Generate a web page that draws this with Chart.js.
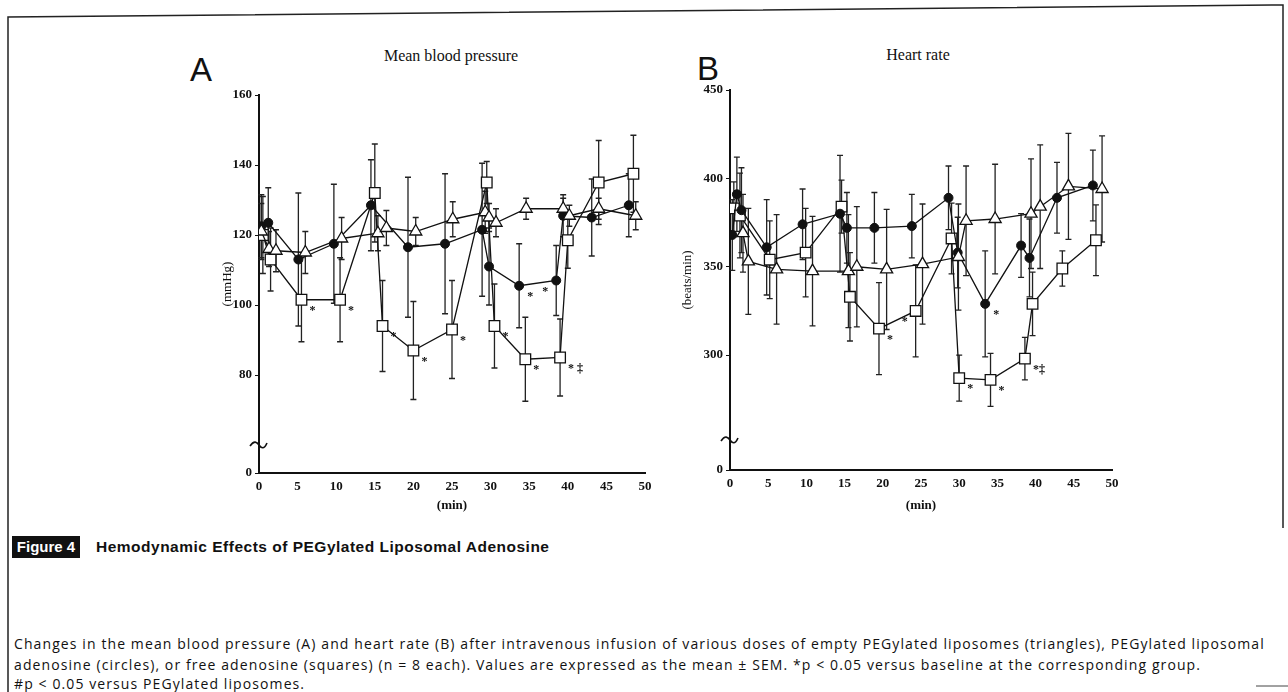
<!DOCTYPE html>
<html>
<head>
<meta charset="utf-8">
<script src="https://cdn.jsdelivr.net/npm/chart.js@4.4.1/dist/chart.umd.min.js"></script>
<style>
  body { margin: 0; width: 1288px; height: 692px; background: #fff; position: relative; overflow: hidden; }
  .abs { position: absolute; white-space: nowrap; color: #111; }
  .panel { font-family: 'Liberation Sans', Arial, sans-serif; font-size: 33px; line-height: 33px; }
  .ptitle { font-family: 'Liberation Serif', serif; font-size: 16px; transform: translateX(-50%); }
  .cap { font-family: 'Open Sans', sans-serif; font-size: 14px; letter-spacing: 1.1px; line-height: 18px; }
  #figbox { left: 12px; top: 536px; width: 68px; height: 22px; background: #111; color: #fff;
            font: bold 15px 'Liberation Sans', sans-serif; line-height: 22px; text-align: center; }
  #figtitle { left: 96px; top: 538px; font: bold 15.5px 'Liberation Sans', sans-serif; letter-spacing: 0.5px; }
  canvas { position: absolute; }
</style>
</head>
<body>
<svg class="abs" style="left:0;top:0" width="1288" height="692">
  <polyline points="8,692 8,17 1283,5 1283,528" fill="none" stroke="#222" stroke-width="1.5"/>
  <line x1="1256" y1="686" x2="1288" y2="686" stroke="#444" stroke-width="1"/>
</svg>

<div class="abs panel" style="left:190px;top:53px">A</div>
<div class="abs ptitle" style="left:451px;top:47px">Mean blood pressure</div>
<div class="abs panel" style="left:697px;top:52px">B</div>
<div class="abs ptitle" style="left:918px;top:46px">Heart rate</div>

<canvas id="chartA" width="480" height="480" style="left:180px;top:40px"></canvas>
<canvas id="chartB" width="480" height="480" style="left:650px;top:40px"></canvas>

<div class="abs" id="figbox">Figure 4</div>
<div class="abs" id="figtitle">Hemodynamic Effects of PEGylated Liposomal Adenosine</div>
<div class="abs cap" style="left:14px;top:635px">Changes in the mean blood pressure (A) and heart rate (B) after intravenous infusion of various doses of empty PEGylated liposomes (triangles), PEGylated liposomal</div>
<div class="abs cap" style="left:14px;top:656px">adenosine (circles), or free adenosine (squares) (n = 8 each). Values are expressed as the mean ± SEM. *p &lt; 0.05 versus baseline at the corresponding group.</div>
<div class="abs cap" style="left:14px;top:675px">#p &lt; 0.05 versus PEGylated liposomes.</div>

<script>
// Panel A - mean blood pressure (mmHg)
const tA_tri = [0.3, 1.3, 2.2, 6, 10.7, 15.4, 16.5, 20.3, 25.1, 29.3, 29.8, 30.7, 34.6, 39.4, 40.2, 44, 48.8];
const A_tri = [121, 116, 115.5, 115, 119, 120.5, 122, 121, 124.5, 126.5, 125, 123.5, 127.5, 127.5, 125.5, 127.5, 125.5];
const A_tri_err = [8, 5, 6, 6, 6, 5, 5, 4, 5, 6, 4, 4, 3, 3, 3, 3, 4];

const tA_cir = [0.3, 1.2, 5.1, 9.7, 14.5, 19.3, 24.1, 28.9, 29.8, 33.7, 38.5, 39.4, 43.1, 47.9];
const A_cir = [122.5, 123.5, 113, 117.5, 128.5, 116.5, 117.5, 121.5, 111, 105.5, 107, 125.5, 125, 128.5];
const A_cir_err = [9, 10, 19, 17, 13, 20, 20, 19, 11, 12, 10, 6, 11, 9];
const A_cir_sig = ['', '', '', '', '', '', '', '', '', '*', '*', '', '', ''];

const tA_sq = [0.5, 1.5, 5.5, 10.5, 15, 16, 20, 25, 29.5, 30.5, 34.5, 39, 40, 44, 48.5];
const A_sq = [120, 113, 101.5, 101.5, 132, 94, 87, 93, 135, 94, 84.5, 85, 118.5, 135, 137.5];
const A_sq_err = [11, 9, 12, 12, 14, 13, 14, 14, 6, 12, 12, 11, 8, 12, 11];
const A_sq_sig = ['', '', '*', '*', '', '*', '*', '*', '', '*', '*', '* \u2021', '', '', ''];

const A_ticks = [160, 140, 120, 100, 80];

// Panel B - heart rate (beats/min)
const tB_tri = [1.7, 2.4, 6.1, 10.8, 15.5, 16.6, 20.5, 25.2, 29.9, 30.9, 34.7, 39.4, 40.6, 44.3, 48.7];
const B_tri = [369, 353, 348.5, 347.5, 347.5, 350, 348.5, 351.5, 355.5, 376, 377, 380, 384, 395.5, 394];
const B_tri_err = [22, 30, 31, 31, 32, 34, 34, 34, 30, 31, 31, 31, 35, 30, 30];

const tB_cir = [0.3, 0.9, 1.5, 4.8, 9.5, 14.4, 15.3, 18.9, 23.8, 28.6, 29.8, 33.4, 38.1, 39.2, 42.8, 47.5];
const B_cir = [368, 391, 382, 361, 374, 380, 372, 372, 373, 389, 358, 329, 362, 355, 389, 396];
const B_cir_err = [20, 21, 24, 27, 20, 33, 20, 20, 18, 18, 20, 30, 18, 22, 20, 20];
const B_cir_sig = ['', '', '', '', '', '', '', '', '', '', '', '*', '', '', '', ''];

const tB_sq = [0.5, 1.3, 5.2, 9.9, 14.6, 15.7, 19.5, 24.3, 29, 30, 34.1, 38.6, 39.6, 43.5, 47.9];
const B_sq = [383, 379, 354, 358, 384, 333, 315, 325, 366, 287, 286, 298, 329, 349, 365];
const B_sq_err = [15, 24, 22, 25, 15, 25, 26, 26, 20, 13, 15, 12, 18, 10, 20];
const B_sq_sig = ['', '', '', '', '', '', '*', '*', '', '*', '*', '*\u2021', '', '', ''];

const B_ticks = [450, 400, 350, 300];

const xTicks = [0, 5, 10, 15, 20, 25, 30, 35, 40, 45, 50];

const serif = "'Liberation Serif', 'DejaVu Serif', serif";

function pts(t, v) {
    return t.map((x, i) => ({ x: x, y: v[i] }));
}

// error bars drawn under the lines and markers
const errorBars = {
    id: 'errorBars',
    beforeDatasetsDraw(chart) {
        const ctx = chart.ctx;
        const y = chart.scales.y;
        ctx.save();
        ctx.strokeStyle = '#222';
        ctx.lineWidth = 1.3;
        chart.data.datasets.forEach((ds, i) => {
            const meta = chart.getDatasetMeta(i);
            meta.data.forEach((el, j) => {
                const e = ds.err[j];
                const v = ds.data[j].y;
                const top = y.getPixelForValue(v + e);
                const bot = y.getPixelForValue(v - e);
                ctx.beginPath();
                ctx.moveTo(el.x, top); ctx.lineTo(el.x, bot);
                ctx.moveTo(el.x - 3, top); ctx.lineTo(el.x + 3, top);
                ctx.moveTo(el.x - 3, bot); ctx.lineTo(el.x + 3, bot);
                ctx.stroke();
            });
        });
        ctx.restore();
    },
    afterDatasetsDraw(chart) {
        // significance marks next to the points
        const ctx = chart.ctx;
        ctx.save();
        ctx.fillStyle = '#111';
        ctx.font = 'bold 12px ' + serif;
        ctx.textBaseline = 'middle';
        chart.data.datasets.forEach((ds, i) => {
            if (!ds.sig) return;
            const meta = chart.getDatasetMeta(i);
            meta.data.forEach((el, j) => {
                const s = ds.sig[j];
                if (!s) return;
                const left = ds.sigLeft && ds.sigLeft.includes(j);
                ctx.textAlign = left ? 'right' : 'left';
                ctx.fillText(s, left ? el.x - 8 : el.x + 8, el.y + 11);
            });
        });
        ctx.restore();
    }
};

// the "~" break mark on the y axis
const axisBreak = {
    id: 'axisBreak',
    afterDraw(chart, args, opts) {
        const ctx = chart.ctx;
        const yy = chart.scales.y.getPixelForValue(opts.value);
        const xx = chart.chartArea.left;
        ctx.save();
        ctx.strokeStyle = '#111';
        ctx.lineWidth = 1.6;
        ctx.beginPath();
        ctx.moveTo(xx - 9, yy + 1);
        ctx.bezierCurveTo(xx - 5, yy - 5, xx - 2, yy - 3, xx, yy);
        ctx.bezierCurveTo(xx + 2, yy + 3, xx + 5, yy + 5, xx + 8, yy - 2);
        ctx.stroke();
        ctx.restore();
    }
};

function makePanel(id, o) {
    const line = { borderColor: '#111', borderWidth: 1.3, showLine: true, tension: 0 };
    new Chart(document.getElementById(id), {
        type: 'scatter',
        data: {
            datasets: [
                Object.assign({}, line, {
                    label: 'Empty PEGylated liposomes', data: pts(o.tTri, o.tri), err: o.triErr,
                    pointStyle: 'triangle', pointRadius: 7, pointBackgroundColor: '#fff',
                    pointBorderColor: '#111', pointBorderWidth: 1.3
                }),
                Object.assign({}, line, {
                    label: 'PEGylated liposomal adenosine', data: pts(o.tCir, o.cir), err: o.cirErr,
                    sig: o.cirSig, sigLeft: o.cirLeft,
                    pointStyle: 'circle', pointRadius: 4.5, pointBackgroundColor: '#111',
                    pointBorderColor: '#111', pointBorderWidth: 1
                }),
                Object.assign({}, line, {
                    label: 'Free adenosine', data: pts(o.tSq, o.sq), err: o.sqErr,
                    sig: o.sqSig, sigLeft: o.sqLeft,
                    pointStyle: 'rect', pointRadius: 7.5, pointBackgroundColor: '#fff',
                    pointBorderColor: '#111', pointBorderWidth: 1.3
                })
            ]
        },
        options: {
            responsive: false,
            animation: false,
            layout: { padding: { top: o.padTop, right: o.padRight, left: 0, bottom: 0 } },
            plugins: {
                legend: { display: false },
                tooltip: { enabled: false },
                axisBreak: { value: o.breakAt }
            },
            scales: {
                x: {
                    type: 'linear', min: 0, max: 50,
                    afterBuildTicks: s => { s.ticks = xTicks.map(v => ({ value: v })); },
                    afterFit: s => { s.height = o.xHeight; },
                    grid: { drawOnChartArea: false, drawTicks: false },
                    border: { color: '#111', width: 2 },
                    ticks: { color: '#111', padding: 6, font: { family: serif, size: 13, weight: 'bold' } },
                    title: { display: true, text: '(min)', color: '#111', padding: { bottom: 7 },
                             font: { family: serif, size: 13, weight: 'bold' } }
                },
                y: {
                    type: 'linear', min: o.yMin, max: o.yMax,
                    afterBuildTicks: s => {
                        s.ticks = [{ value: o.yMin }].concat(o.yTicks.map(v => ({ value: v })));
                    },
                    afterFit: s => { s.width = o.yWidth; },
                    grid: { drawOnChartArea: false, drawTicks: true, tickLength: 4, color: '#111' },
                    border: { color: '#111', width: 2 },
                    ticks: {
                        color: '#111', padding: 3, font: { family: serif, size: 13, weight: 'bold' },
                        callback: v => (v === o.yMin ? '0' : v)
                    },
                    title: { display: true, text: o.yTitle, color: '#111', padding: { top: o.yTitlePad },
                             font: { family: serif, size: 13 } }
                }
            }
        },
        plugins: [errorBars, axisBreak]
    });
}

makePanel('chartA', {
    tTri: tA_tri, tri: A_tri, triErr: A_tri_err,
    tCir: tA_cir, cir: A_cir, cirErr: A_cir_err, cirSig: A_cir_sig, cirLeft: [10],
    tSq: tA_sq, sq: A_sq, sqErr: A_sq_err, sqSig: A_sq_sig, sqLeft: [],
    yMin: 52, yMax: 160, yTicks: A_ticks, breakAt: 60, yTitle: '(mmHg)',
    padTop: 55, padRight: 15, yWidth: 79, xHeight: 47, yTitlePad: 40
});

makePanel('chartB', {
    tTri: tB_tri, tri: B_tri, triErr: B_tri_err,
    tCir: tB_cir, cir: B_cir, cirErr: B_cir_err, cirSig: B_cir_sig, cirLeft: [],
    tSq: tB_sq, sq: B_sq, sqErr: B_sq_err, sqSig: B_sq_sig, sqLeft: [7],
    yMin: 235, yMax: 450, yTicks: B_ticks, breakAt: 252, yTitle: '(beats/min)',
    padTop: 50, padRight: 18, yWidth: 80, xHeight: 50, yTitlePad: 30
});
</script>
</body>
</html>
